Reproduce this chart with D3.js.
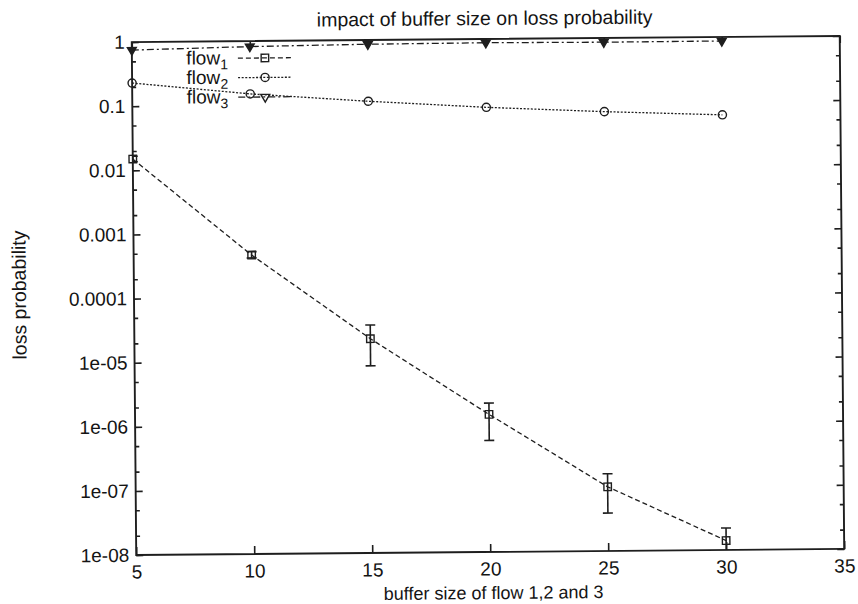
<!DOCTYPE html>
<html>
<head>
<meta charset="utf-8">
<script src="https://cdn.jsdelivr.net/npm/d3@7"></script>
<style>
  html, body { margin: 0; padding: 0; background: #fff; }
  svg { display: block; }
  text { font-family: "Liberation Sans", Arial, Helvetica, sans-serif; fill: #141414; }
</style>
</head>
<body>
<svg id="chart" width="858" height="604"></svg>
<script>
// Buffer sizes (x) and measured loss probabilities for each flow
const bufferSizes = [5, 10, 15, 20, 25, 30];
const flow1 = [0.015, 4.6e-4, 2.2e-5, 1.4e-6, 1.0e-7, 1.4e-8];
const flow1Low = [0.0136, 4.15e-4, 8.3e-6, 5.5e-7, 3.9e-8, 9e-9];
const flow1High = [0.0166, 5.2e-4, 3.6e-5, 2.1e-6, 1.6e-7, 2.2e-8];
const flow2 = [0.23, 0.15, 0.111, 0.086, 0.071, 0.061];
const flow3 = [0.75, 0.82, 0.86, 0.875, 0.86, 0.865];

const xTickValues = [5, 10, 15, 20, 25, 30, 35];
const yTickValues = [1, 0.1, 0.01, 0.001, 0.0001, 1e-5, 1e-6, 1e-7, 1e-8];
const yTickLabels = ["1", "0.1", "0.01", "0.001", "0.0001", "1e-05", "1e-06", "1e-07", "1e-08"];
const seriesNames = ["flow", "flow", "flow"];
const seriesSubs = ["1", "2", "3"];

const titleText = "impact of buffer size on loss probability";
const xLabelText = "buffer size of flow 1,2 and 3";
const yLabelText = "loss probability";

const frame = { left: 134, right: 842, top: 39, bottom: 552 };
const ink = "#1e1e1e";

const svg = d3.select("#chart");
// whole page drawn with a slight tilt, as on the printed sheet
const root = svg.append("g").attr("transform", "rotate(-0.5, 488, 297)");

const x = d3.scaleLinear().domain([5, 35]).range([frame.left, frame.right]);
const y = d3.scaleLog().domain([1e-8, 1]).range([frame.bottom, frame.top]);

// minor ticks at 2x and 5x of each decade
const minorTicks = [];
for (let e = -8; e < 0; e++) {
  minorTicks.push(2 * Math.pow(10, e), 5 * Math.pow(10, e));
}

function styleAxis(g) {
  g.select(".domain").remove();
  g.selectAll(".tick line").attr("stroke", ink).attr("stroke-width", 1.6);
  g.selectAll(".tick text").attr("fill", "#141414").style("font-size", "19px");
}

const labelFmt = d => yTickLabels[yTickValues.indexOf(d)];

// left axis
root.append("g").attr("transform", `translate(${frame.left},0)`)
  .call(d3.axisLeft(y).tickValues(yTickValues).tickFormat(labelFmt).tickSize(-7).tickPadding(7))
  .call(styleAxis);
root.append("g").attr("transform", `translate(${frame.left},0)`)
  .call(d3.axisLeft(y).tickValues(minorTicks).tickFormat("").tickSize(-4))
  .call(styleAxis);
// right axis (mirror ticks)
root.append("g").attr("transform", `translate(${frame.right},0)`)
  .call(d3.axisRight(y).tickValues(yTickValues).tickFormat("").tickSize(-7))
  .call(styleAxis);
root.append("g").attr("transform", `translate(${frame.right},0)`)
  .call(d3.axisRight(y).tickValues(minorTicks).tickFormat("").tickSize(-4))
  .call(styleAxis);
// bottom axis
root.append("g").attr("transform", `translate(0,${frame.bottom})`)
  .call(d3.axisBottom(x).tickValues(xTickValues).tickFormat(d3.format("d")).tickSize(-8).tickPadding(10))
  .call(styleAxis);
// top axis (mirror ticks)
root.append("g").attr("transform", `translate(0,${frame.top})`)
  .call(d3.axisTop(x).tickValues(xTickValues).tickFormat("").tickSize(-7))
  .call(styleAxis);

// plot frame
root.append("rect")
  .attr("x", frame.left).attr("y", frame.top)
  .attr("width", frame.right - frame.left).attr("height", frame.bottom - frame.top)
  .attr("fill", "none").attr("stroke", ink).attr("stroke-width", 1.9);

// clip for data
svg.append("defs").append("clipPath").attr("id", "plotClip")
  .append("rect")
  .attr("x", frame.left).attr("y", frame.top - 6)
  .attr("width", frame.right - frame.left).attr("height", frame.bottom - frame.top + 6);

const plot = root.append("g").attr("clip-path", "url(#plotClip)");

const line = d3.line().x(d => x(d[0])).y(d => y(d[1]));

const styles = [
  { dash: "5,3", symbol: d3.symbolSquare, size: 56, fill: "none" },
  { dash: "2,1.6", symbol: d3.symbolCircle, size: 52, fill: "none" },
  { dash: "7,3,2,3", symbol: d3.symbolTriangle, size: 34, fill: ink }
];
const seriesData = [flow1, flow2, flow3];

function drawMarker(g, i, cx, cy, legend) {
  const st = styles[i];
  const sym = d3.symbol().type(st.symbol).size(st.size);
  const rot = st.symbol === d3.symbolTriangle ? " rotate(180)" : "";
  g.append("path")
    .attr("d", sym())
    .attr("transform", `translate(${cx},${cy})${rot}`)
    .attr("fill", legend && i === 2 ? "none" : st.fill)
    .attr("stroke", ink)
    .attr("stroke-width", 1.4);
}

// error bars for flow 1
const capHalf = 5;
bufferSizes.forEach((b, i) => {
  const cx = x(b);
  const yl = y(flow1Low[i]), yh = y(flow1High[i]);
  plot.append("line").attr("x1", cx).attr("x2", cx).attr("y1", yl).attr("y2", yh)
    .attr("stroke", ink).attr("stroke-width", 1.6);
  [yl, yh].forEach(yy => {
    plot.append("line").attr("x1", cx - capHalf).attr("x2", cx + capHalf)
      .attr("y1", yy).attr("y2", yy).attr("stroke", ink).attr("stroke-width", 1.6);
  });
});

seriesData.forEach((vals, i) => {
  const pts = bufferSizes.map((b, k) => [b, vals[k]]);
  plot.append("path")
    .attr("d", line(pts))
    .attr("fill", "none")
    .attr("stroke", ink)
    .attr("stroke-width", 1.3)
    .attr("stroke-dasharray", styles[i].dash);
  pts.forEach(p => drawMarker(root, i, x(p[0]), y(p[1]), false));
});

// legend
const legend = root.append("g");
const legendRight = 230, legendTop = 62, legendStep = 19.5;
seriesNames.forEach((name, i) => {
  const by = legendTop + i * legendStep;
  const t = legend.append("text")
    .attr("x", legendRight).attr("y", by)
    .attr("text-anchor", "end")
    .style("font-size", "19px");
  t.append("tspan").text(name);
  t.append("tspan").attr("dy", 5).style("font-size", "14px").text(seriesSubs[i]);
  const ly = by - 6;
  legend.append("line")
    .attr("x1", 240).attr("x2", 294).attr("y1", ly).attr("y2", ly)
    .attr("stroke", ink).attr("stroke-width", 1.3)
    .attr("stroke-dasharray", styles[i].dash);
  drawMarker(legend, i, 267, ly, true);
});

// title and axis labels
root.append("text")
  .attr("x", 487).attr("y", 25)
  .attr("text-anchor", "middle")
  .style("font-size", "19.5px")
  .text(titleText);

root.append("text")
  .attr("x", 491).attr("y", 599)
  .attr("text-anchor", "middle")
  .style("font-size", "18px")
  .text(xLabelText);

root.append("text")
  .attr("transform", "translate(26,291) rotate(-90)")
  .attr("text-anchor", "middle")
  .style("font-size", "19.5px")
  .text(yLabelText);
</script>
</body>
</html>
